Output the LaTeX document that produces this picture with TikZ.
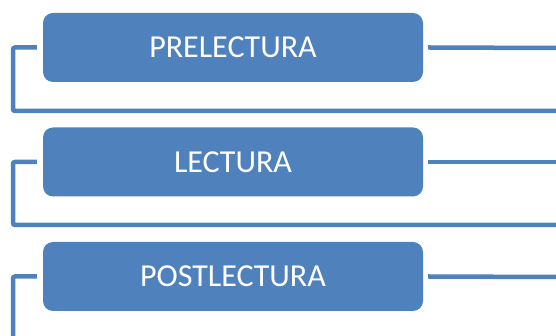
\documentclass[tikz,border=0pt]{standalone}
\usepackage{fontspec}
\setmainfont{Carlito}
\definecolor{fase}{HTML}{4F81BD}
\begin{document}
\begin{tikzpicture}[x=1pt, y=1pt,
    etapa/.style={rectangle, rounded corners=10pt, fill=fase, text=white,
      minimum width=380pt, minimum height=69pt, inner sep=0pt,
      font=\fontsize{32}{34}\selectfont},
    enlace/.style={draw=fase, line width=4.5pt, rounded corners=2pt}]
      \useasboundingbox (0,0) rectangle (556,336);
      \node[etapa] (fase0) at (233,288.5){PRELECTURA};
      \node[etapa] (fase1) at (233,174){LECTURA};
      \node[etapa] (fase2) at (233,59.5){POSTLECTURA};
      \coordinate (esq0) at (13,225);
      \coordinate (esq1) at (13,111);
      \coordinate (esq2) at (13,0);
      \coordinate (fin0) at (556,225);
      \coordinate (fin1) at (556,111);
      \coordinate (der0) at (556,288);
      \coordinate (der1) at (556,174);
      \coordinate (der2) at (556,59);
      \draw[enlace]([xshift=-6pt]fase0.west) -| (esq0) -- (fin0);
      \draw[enlace]([xshift=-6pt]fase1.west) -| (esq1) -- (fin1);
      \draw[enlace]([xshift=-6pt]fase2.west) -| (esq2);
      \draw[enlace]([xshift=5pt]fase0.east) -- (der0);
      \draw[enlace]([xshift=5pt]fase1.east) -- (der1);
      \draw[enlace]([xshift=5pt]fase2.east) -- (der2);

    \end{tikzpicture}
\end{document}
